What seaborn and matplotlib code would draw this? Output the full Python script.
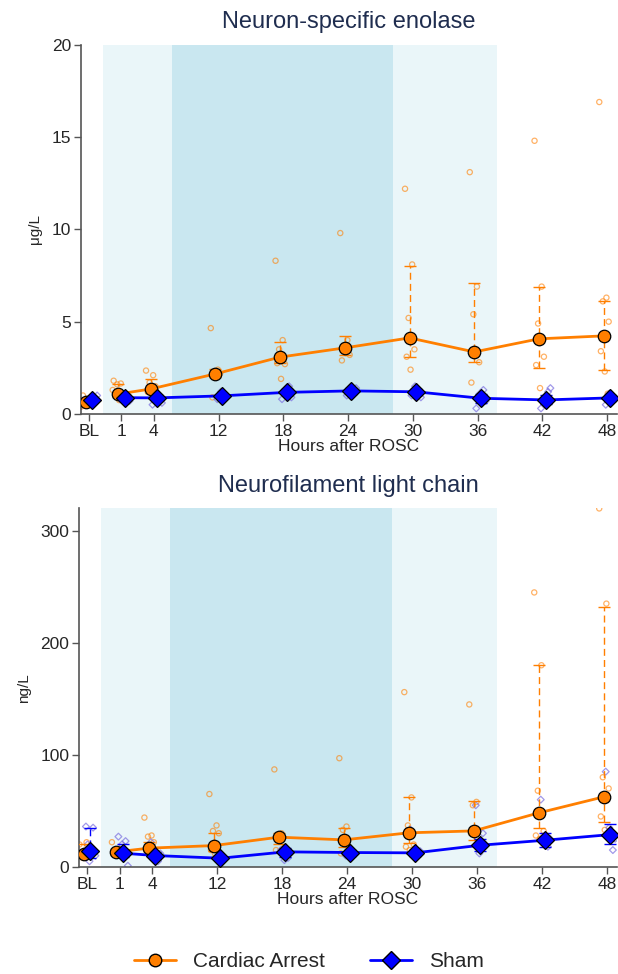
import matplotlib
matplotlib.use("Agg")
import matplotlib.pyplot as plt
from matplotlib.lines import Line2D
import numpy as np
import pandas as pd
import seaborn as sns

# time points and their slots on the axis
times = ["BL", "1", "4", "12", "18", "24", "30", "36", "42", "48"]
TICK_POS = [0, 1, 2, 4, 6, 8, 10, 12, 14, 16]

# Neuron-specific enolase (ug/L)
nse_ca_mean = [0.65, 1.08, 1.35, 2.17, 3.08, 3.58, 4.12, 3.36, 4.07, 4.23]
nse_ca_lo = [0.5, 0.9, 1.15, 2.0, 2.75, 3.2, 3.1, 2.8, 2.5, 2.4]
nse_ca_hi = [0.8, 1.6, 1.9, 2.45, 3.9, 4.2, 8.0, 7.1, 6.9, 6.1]
nse_sham_mean = [0.78, 0.88, 0.87, 0.98, 1.17, 1.25, 1.2, 0.85, 0.76, 0.87]
nse_sham_lo = [0.65, 0.75, 0.7, 0.85, 1.0, 1.1, 1.05, 0.6, 0.55, 0.7]
nse_sham_hi = [0.9, 1.0, 1.0, 1.1, 1.35, 1.4, 1.35, 1.1, 1.0, 1.05]
nse_ca_raw = [
    [0.4, 0.6, 0.7, 0.9, 1.0, 0.8],
    [1.8, 1.65, 1.6, 1.1, 1.0, 0.75, 0.9, 1.3],
    [2.35, 2.1, 1.7, 1.5, 1.2, 1.1, 1.3],
    [4.65, 2.4, 2.3, 2.2, 0.9],
    [8.3, 4.0, 3.5, 2.7, 2.75, 1.9],
    [9.8, 4.0, 3.7, 3.2, 2.9, 3.3],
    [12.2, 8.1, 5.2, 3.5, 3.1, 2.4, 4.0],
    [13.1, 6.9, 5.4, 2.8, 1.7, 3.3],
    [14.8, 6.9, 4.9, 3.1, 2.65, 1.4],
    [16.9, 6.3, 6.1, 5.0, 3.4, 2.3, 1.1],
]
nse_sham_raw = [
    [0.7, 0.9, 0.8, 1.0],
    [0.8, 1.0, 0.9, 0.7],
    [0.5, 0.7, 1.0, 0.6],
    [0.8, 1.0, 1.2, 0.9],
    [0.8, 1.5, 1.2, 0.9],
    [1.0, 1.3, 1.1, 1.4],
    [1.0, 1.3, 1.5, 0.9],
    [0.3, 1.3, 1.1, 0.7],
    [0.3, 1.2, 0.9, 1.4],
    [0.5, 0.9, 1.1],
]

# Neurofilament light chain (ng/L)
nfl_ca_mean = [11.6, 13.4, 16.7, 19.0, 26.5, 24.1, 30.4, 32.1, 48.2, 62.5]
nfl_ca_lo = [9, 11, 14, 14, 20, 18, 21, 24, 35, 40]
nfl_ca_hi = [20, 16, 22, 30, 30, 35, 62, 59, 180, 232]
nfl_sham_mean = [14.3, 12.2, 10.1, 7.7, 13.4, 12.8, 12.5, 19.3, 23.8, 28.8]
nfl_sham_lo = [8, 9, 7, 6, 9, 10, 10, 14, 18, 20]
nfl_sham_hi = [35, 20, 13, 10, 17, 15, 15, 25, 30, 38]
nfl_ca_raw = [
    [20, 22, 8, 15, 12, 10],
    [22, 16, 14, 11, 12],
    [44, 28, 27, 22, 15, 18],
    [65, 37, 32, 30, 15, 12],
    [87, 30, 28, 17, 15],
    [97, 36, 33, 18, 12],
    [156, 62, 37, 20, 18, 15],
    [145, 58, 55, 20, 30],
    [245, 180, 68, 32, 28, 25],
    [320, 235, 80, 70, 45, 33, 28],
]
nfl_sham_raw = [
    [36, 35, 5, 10, 20, 15],
    [27, 23, 20, 1, 12, 10],
    [22, 5, 8, 12],
    [20, 8, 6],
    [15, 8, 6, 12],
    [10, 13, 11],
    [33, 10, 12, 14],
    [55, 30, 12, 20],
    [60, 18, 20, 25],
    [85, 15, 35, 25],
]

ORANGE = "#ff7f00"
BLUE = "#0000ff"
DIAMOND_RAW = "#7a6ee0"
SHADE_LIGHT = "#eaf6f9"
SHADE_DARK = "#c9e7f0"
TITLE_COL = "#1f2d4f"
JITTER = [-0.14, 0.08, -0.03, 0.15, -0.09, 0.03, 0.12, -0.17]
DODGE = 0.1

sns.set_theme(style="white")
plt.rcParams["font.family"] = ["Liberation Sans", "DejaVu Sans"]


def raw_frame(raw, offset):
    rows = []
    for i, vals in enumerate(raw):
        for j, v in enumerate(vals):
            rows.append({"x": TICK_POS[i] + offset + JITTER[j % len(JITTER)], "y": v})
    return pd.DataFrame(rows)


def draw_panel(ax, title, ylabel, ylim, yticks, ca, sham):
    ca_mean, ca_lo, ca_hi, ca_raw = ca
    sh_mean, sh_lo, sh_hi, sh_raw = sham

    ax.axvspan(0.43, 2.55, color=SHADE_LIGHT, lw=0, zorder=0)
    ax.axvspan(2.55, 9.38, color=SHADE_DARK, lw=0, zorder=0)
    ax.axvspan(9.38, 12.6, color=SHADE_LIGHT, lw=0, zorder=0)

    x_ca = np.array(TICK_POS) - DODGE
    x_sh = np.array(TICK_POS) + DODGE

    sns.scatterplot(data=raw_frame(ca_raw, -DODGE), x="x", y="y", ax=ax,
                    marker="o", s=14, facecolors="none", edgecolor=ORANGE,
                    linewidth=0.9, alpha=0.6, zorder=2, legend=False)
    sns.scatterplot(data=raw_frame(sh_raw, DODGE), x="x", y="y", ax=ax,
                    marker="D", s=12, facecolors="none", edgecolor=DIAMOND_RAW,
                    linewidth=0.9, alpha=0.7, zorder=2, legend=False)

    ca_err = [np.array(ca_mean) - np.array(ca_lo), np.array(ca_hi) - np.array(ca_mean)]
    sh_err = [np.array(sh_mean) - np.array(sh_lo), np.array(sh_hi) - np.array(sh_mean)]
    eb = ax.errorbar(x_ca, ca_mean, yerr=ca_err, fmt="none", ecolor=ORANGE,
                     elinewidth=1.0, capsize=4, capthick=1.0, zorder=3)
    eb[2][0].set_linestyle((0, (5, 3)))
    eb2 = ax.errorbar(x_sh, sh_mean, yerr=sh_err, fmt="none", ecolor=BLUE,
                      elinewidth=1.0, capsize=4, capthick=1.0, zorder=3)
    eb2[2][0].set_linestyle((0, (5, 3)))

    df_ca = pd.DataFrame({"x": x_ca[1:], "y": ca_mean[1:]})
    df_sh = pd.DataFrame({"x": x_sh[1:], "y": sh_mean[1:]})
    sns.lineplot(data=df_ca, x="x", y="y", ax=ax, color=ORANGE, lw=2, zorder=4)
    sns.lineplot(data=df_sh, x="x", y="y", ax=ax, color=BLUE, lw=2, zorder=5)
    ax.plot(x_ca, ca_mean, "o", ms=9, mfc=ORANGE, mec="black", mew=0.9, zorder=6)
    ax.plot(x_sh, sh_mean, "D", ms=9, mfc=BLUE, mec="black", mew=0.9, zorder=7)

    ax.set_xlim(-0.25, 16.3)
    ax.set_ylim(*ylim)
    ax.set_xticks(TICK_POS)
    ax.set_xticklabels(times, fontsize=12.5)
    ax.set_yticks(yticks)
    ax.set_yticklabels([str(t) for t in yticks], fontsize=12.5)
    ax.set_xlabel("Hours after ROSC", fontsize=12.5, labelpad=0)
    ax.set_ylabel(ylabel, fontsize=11, labelpad=7)
    ax.set_title(title, fontsize=17, color=TITLE_COL, pad=12)
    for side in ["top", "right"]:
        ax.spines[side].set_visible(False)
    for side in ["left", "bottom"]:
        ax.spines[side].set_color("#555555")
        ax.spines[side].set_linewidth(1.2)
    ax.tick_params(axis="both", direction="out", length=5, width=1,
                   color="#555555", bottom=True, left=True, pad=2)


fig = plt.figure(figsize=(6.18, 9.74), dpi=100)
ax1 = fig.add_axes([0.131, 0.575, 0.867, 0.379])
ax2 = fig.add_axes([0.128, 0.110, 0.870, 0.368])

draw_panel(ax1, "Neuron-specific enolase", "μg/L", (0, 20), [0, 5, 10, 15, 20],
           (nse_ca_mean, nse_ca_lo, nse_ca_hi, nse_ca_raw),
           (nse_sham_mean, nse_sham_lo, nse_sham_hi, nse_sham_raw))
draw_panel(ax2, "Neurofilament light chain", "ng/L", (0, 320), [0, 100, 200, 300],
           (nfl_ca_mean, nfl_ca_lo, nfl_ca_hi, nfl_ca_raw),
           (nfl_sham_mean, nfl_sham_lo, nfl_sham_hi, nfl_sham_raw))

handles = [
    Line2D([], [], color=ORANGE, lw=2, marker="o", ms=9, mfc=ORANGE, mec="black"),
    Line2D([], [], color=BLUE, lw=2, marker="D", ms=9, mfc=BLUE, mec="black"),
]
fig.legend(handles, ["Cardiac Arrest", "Sham"], loc="lower center",
           bbox_to_anchor=(0.5, -0.016), ncol=2, frameon=False, fontsize=15,
           handlelength=2.0, columnspacing=2.2)

fig.savefig("out.png", dpi=100)
